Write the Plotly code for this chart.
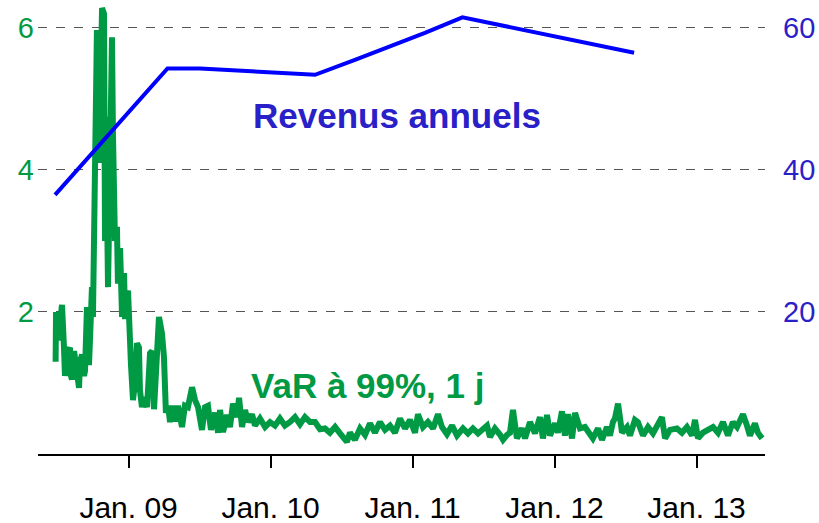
import plotly.graph_objects as go

# VaR (99%, 1 day) - decimal year and value
var_t = [2008.486, 2008.489, 2008.503, 2008.517, 2008.531, 2008.545, 2008.552, 2008.566, 2008.587, 2008.594,
         2008.601, 2008.616, 2008.630, 2008.651, 2008.658, 2008.672, 2008.686, 2008.693, 2008.707, 2008.721,
         2008.728, 2008.742, 2008.749, 2008.763, 2008.770, 2008.777, 2008.785, 2008.792, 2008.806, 2008.813,
         2008.827, 2008.834, 2008.841, 2008.855, 2008.869, 2008.883, 2008.890, 2008.897, 2008.904, 2008.918,
         2008.925, 2008.940, 2008.947, 2008.954, 2008.968, 2008.975, 2008.982, 2008.996, 2009.003, 2009.017,
         2009.031, 2009.045, 2009.059, 2009.073, 2009.080, 2009.094, 2009.108, 2009.130, 2009.151, 2009.165,
         2009.179, 2009.193, 2009.214, 2009.235, 2009.249, 2009.263, 2009.278, 2009.292, 2009.313, 2009.327,
         2009.348, 2009.376, 2009.397, 2009.418, 2009.447, 2009.468, 2009.489, 2009.517, 2009.538, 2009.559,
         2009.580, 2009.609, 2009.630, 2009.644, 2009.665, 2009.693, 2009.714, 2009.735, 2009.763, 2009.778,
         2009.799, 2009.820, 2009.841, 2009.869, 2009.890, 2009.925, 2009.961, 2009.996, 2010.031, 2010.066,
         2010.101, 2010.137, 2010.172, 2010.207, 2010.242, 2010.278, 2010.313, 2010.348, 2010.383, 2010.418,
         2010.454, 2010.489, 2010.517, 2010.538, 2010.559, 2010.594, 2010.630, 2010.665, 2010.700, 2010.735,
         2010.770, 2010.806, 2010.841, 2010.876, 2010.911, 2010.947, 2010.982, 2011.017, 2011.038, 2011.073,
         2011.108, 2011.144, 2011.179, 2011.207, 2011.242, 2011.278, 2011.313, 2011.355, 2011.390, 2011.425,
         2011.461, 2011.496, 2011.524, 2011.545, 2011.580, 2011.616, 2011.637, 2011.665, 2011.686, 2011.707,
         2011.735, 2011.770, 2011.792, 2011.827, 2011.862, 2011.897, 2011.918, 2011.947, 2011.968, 2012.003,
         2012.024, 2012.052, 2012.073, 2012.094, 2012.123, 2012.144, 2012.179, 2012.214, 2012.249, 2012.270,
         2012.306, 2012.334, 2012.369, 2012.390, 2012.411, 2012.425, 2012.447, 2012.475, 2012.510, 2012.531,
         2012.566, 2012.587, 2012.623, 2012.658, 2012.693, 2012.728, 2012.756, 2012.778, 2012.813, 2012.862,
         2012.897, 2012.932, 2012.968, 2012.989, 2013.010, 2013.045, 2013.080, 2013.116, 2013.151, 2013.186,
         2013.221, 2013.256, 2013.285, 2013.306, 2013.327, 2013.355, 2013.376, 2013.411, 2013.432, 2013.461]
var_v = [1.30, 2.00, 1.60, 1.90, 2.10, 1.50, 1.10, 1.40, 1.50, 1.10,
         1.05, 1.45, 1.20, 0.93, 1.30, 1.40, 1.10, 1.17, 2.07, 1.25,
         1.60, 2.35, 1.93, 3.50, 5.00, 5.97, 5.50, 4.10, 5.50, 6.28,
         6.20, 3.00, 4.75, 2.35, 4.00, 5.87, 4.50, 3.58, 3.00, 3.20,
         2.40, 2.90, 2.60, 1.93, 2.55, 1.90, 2.17, 2.30, 1.70, 1.25,
         0.76, 1.00, 1.56, 1.50, 0.90, 0.66, 0.80, 0.66, 1.42, 1.45,
         0.63, 1.04, 1.93, 1.70, 1.37, 0.58, 0.68, 0.45, 0.68, 0.46,
         0.68, 0.38, 0.68, 0.66, 0.94, 0.76, 0.66, 0.34, 0.66, 0.68,
         0.34, 0.58, 0.30, 0.62, 0.31, 0.55, 0.38, 0.71, 0.52, 0.79,
         0.38, 0.62, 0.45, 0.56, 0.40, 0.50, 0.38, 0.45, 0.40, 0.50,
         0.40, 0.45, 0.52, 0.42, 0.52, 0.45, 0.45, 0.35, 0.36, 0.30,
         0.38, 0.29, 0.20, 0.17, 0.30, 0.20, 0.36, 0.27, 0.43, 0.30,
         0.45, 0.34, 0.40, 0.30, 0.50, 0.36, 0.48, 0.30, 0.56, 0.38,
         0.45, 0.36, 0.56, 0.38, 0.28, 0.40, 0.26, 0.36, 0.29, 0.36,
         0.29, 0.36, 0.40, 0.24, 0.36, 0.27, 0.20, 0.27, 0.30, 0.62,
         0.22, 0.36, 0.22, 0.45, 0.29, 0.52, 0.22, 0.55, 0.26, 0.43,
         0.30, 0.60, 0.26, 0.56, 0.22, 0.58, 0.36, 0.38, 0.30, 0.22,
         0.36, 0.20, 0.38, 0.26, 0.45, 0.50, 0.71, 0.30, 0.38, 0.26,
         0.48, 0.45, 0.26, 0.38, 0.29, 0.40, 0.52, 0.22, 0.34, 0.36,
         0.30, 0.38, 0.26, 0.48, 0.22, 0.30, 0.33, 0.38, 0.30, 0.45,
         0.26, 0.45, 0.38, 0.50, 0.56, 0.40, 0.26, 0.43, 0.30, 0.22]

# Annual revenues (right axis)
rev_t = [2008.482, 2009.274, 2009.503, 2010.313, 2010.594, 2011.087, 2011.351, 2012.560]
rev_v = [36.5, 54.3, 54.3, 53.4, 55.5, 59.3, 61.5, 56.5]

x_tickvals = [2009, 2010, 2011, 2012, 2013]
x_ticktext = ["Jan. 09", "Jan. 10", "Jan. 11", "Jan. 12", "Jan. 13"]
left_ticks = [2, 4, 6]
right_ticks = [20, 40, 60]

GREEN = "#009a44"
BLUE_LINE = "#0000ff"
BLUE_TXT = "#2a20c8"
FONT = "Liberation Sans, Arial, sans-serif"

fig = go.Figure()
fig.add_trace(go.Scatter(x=var_t, y=var_v, mode="lines",
                         line=dict(color=GREEN, width=6), yaxis="y", showlegend=False))
fig.add_trace(go.Scatter(x=rev_t, y=rev_v, mode="lines",
                         line=dict(color=BLUE_LINE, width=4), yaxis="y2", showlegend=False))

fig.add_annotation(x=2010.893, y=4.77, xref="x", yref="y", text="<b>Revenus annuels</b>",
                   showarrow=False, font=dict(family=FONT, size=35, color=BLUE_TXT))
fig.add_annotation(x=2010.686, y=0.96, xref="x", yref="y", text="<b>VaR à 99%, 1 j</b>",
                   showarrow=False, font=dict(family=FONT, size=35, color=GREEN))

fig.update_layout(
    width=819, height=523,
    margin=dict(l=38, r=54, t=0, b=69),
    paper_bgcolor="white", plot_bgcolor="white",
    xaxis=dict(range=[2008.362, 2013.482], tickvals=x_tickvals, ticktext=x_ticktext,
               automargin=False,
               showgrid=False, zeroline=False, showline=True, linecolor="black", linewidth=2,
               ticks="outside", ticklen=12, tickwidth=2, tickcolor="black",
               ticklabelstandoff=14,
               tickfont=dict(family=FONT, size=30, color="black")),
    yaxis=dict(range=[0, 6.394], tickvals=left_ticks, showgrid=True, gridcolor="#555555",
               automargin=False,
               griddash="dash", gridwidth=1, zeroline=False, showline=False, ticks="",
               ticklabelstandoff=3,
               tickfont=dict(family=FONT, size=29, color=GREEN)),
    yaxis2=dict(range=[0, 63.94], tickvals=right_ticks, overlaying="y", side="right",
                automargin=False,
                showgrid=False, zeroline=False, showline=False, ticks="",
                ticklabelstandoff=17,
                tickfont=dict(family=FONT, size=29, color=BLUE_TXT)),
)

fig.write_html("out.html", config={"displayModeBar": False},
               post_script="document.body.style.margin='0';document.body.style.padding='0';")
